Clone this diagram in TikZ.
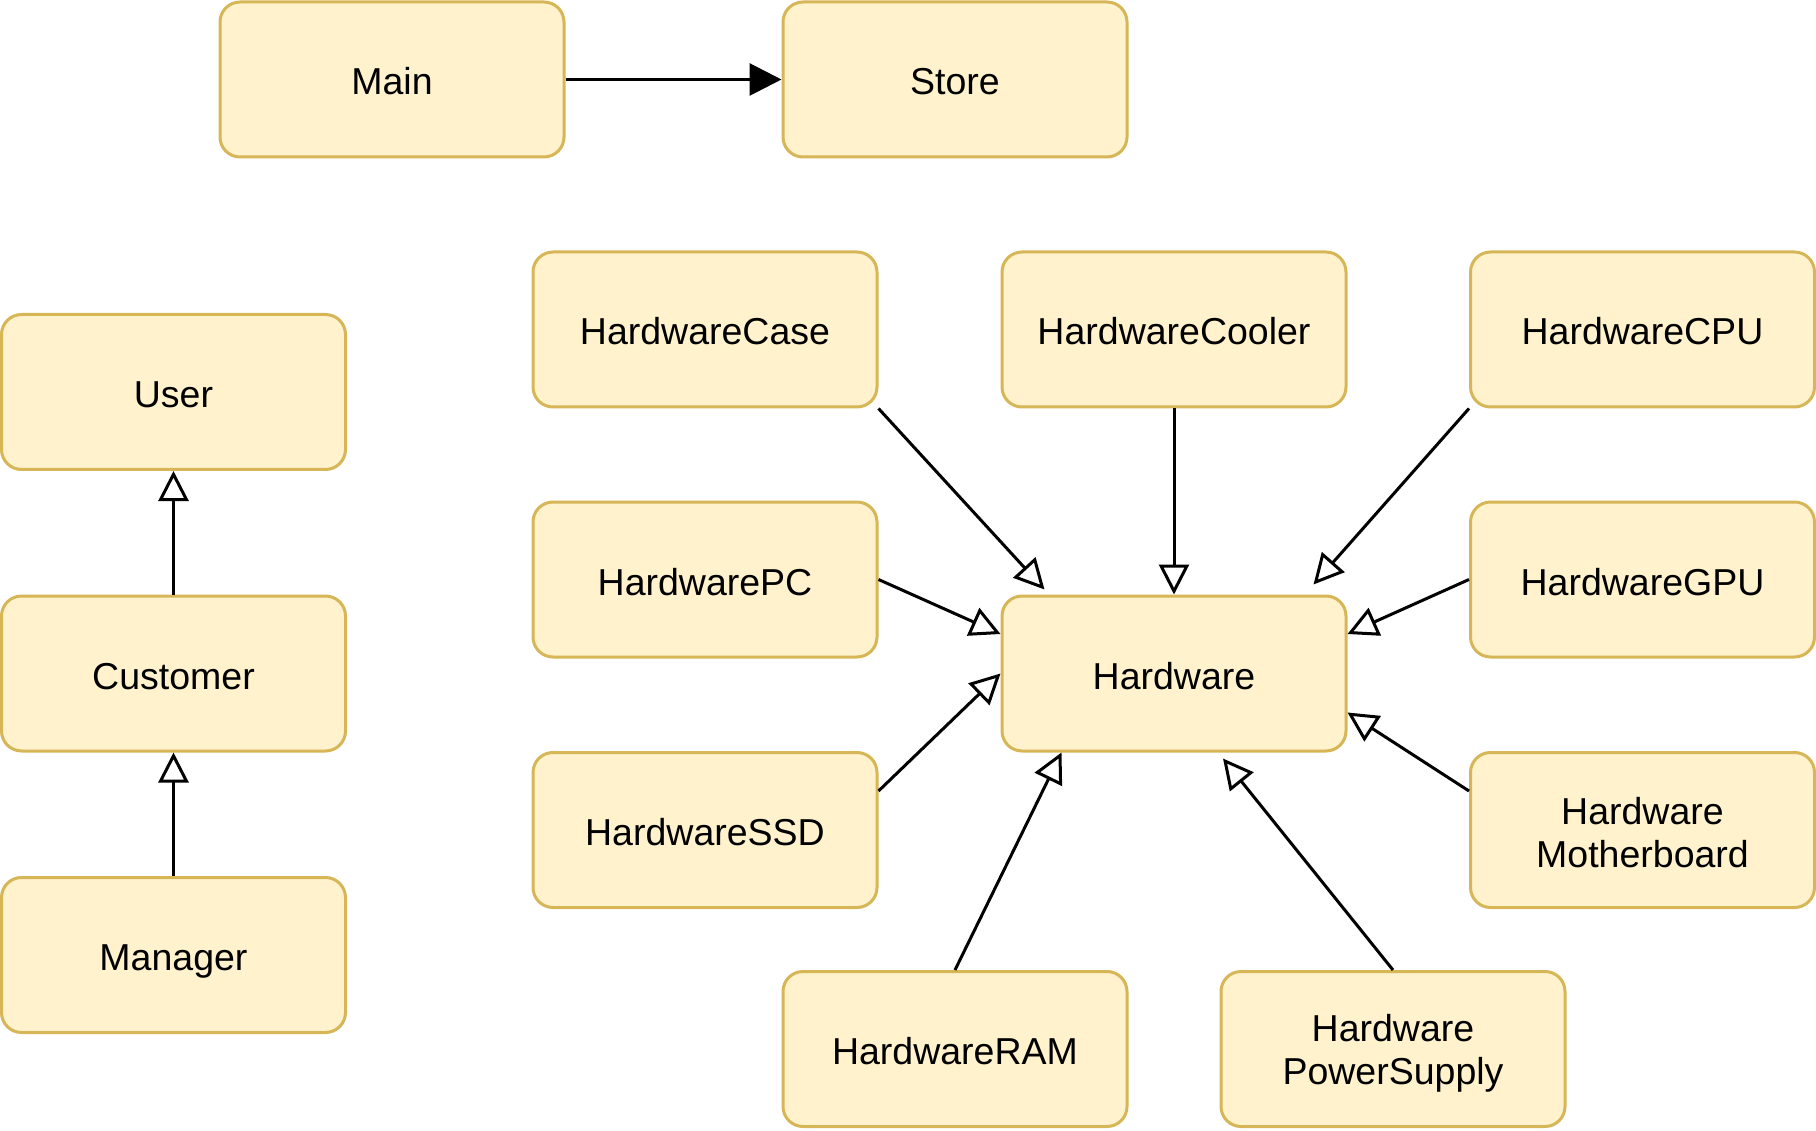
\documentclass[tikz,border=0pt]{standalone}
\usepackage{fontspec}
\setmainfont{Liberation Sans}
\usetikzlibrary{arrows.meta,calc}
\definecolor{boxfill}{HTML}{FFF2CC}
\definecolor{boxline}{HTML}{D6B656}
\newcommand\mystr{\rule[-5pt]{0pt}{41pt}}
\begin{document}
\begin{tikzpicture}[x=1pt,y=-1pt,
  cls/.style={draw=boxline,fill=boxfill,line width=3pt,rounded corners=20pt,
    minimum width=344pt,minimum height=155pt,inner sep=0pt,align=center,
    font=\fontsize{37.5}{43}\selectfont,text=black},
  one/.style={cls,text height=36pt,text depth=5pt},
  inh/.style={draw=black,line width=3pt,-{Triangle[open,length=30pt,width=30pt]}},
  assoc/.style={draw=black,line width=3pt,-{Triangle[length=32pt,width=32pt]}}]
\useasboundingbox (0,0) rectangle (1816,1131);
\node[one] (main) at (392,79.5) {Main};
\node[one] (store) at (955,79.5) {Store};
\node[one] (user) at (173.5,392) {User};
\node[one] (cust) at (173.5,673.5) {Customer};
\node[one] (mgr) at (173.5,955) {Manager};
\node[one] (case) at (705,329.5) {HardwareCase};
\node[one] (cool) at (1174,329.5) {HardwareCooler};
\node[one] (cpu) at (1642.5,329.5) {HardwareCPU};
\node[one] (pc) at (705,579.5) {HardwarePC};
\node[one] (hw) at (1174,673.5) {Hardware};
\node[one] (gpu) at (1642.5,579.5) {HardwareGPU};
\node[one] (ssd) at (705,830) {HardwareSSD};
\node[cls] (mb) at (1642.5,830) {\mystr Hardware\\\mystr Motherboard};
\node[one] (ram) at (955,1049) {HardwareRAM};
\node[cls] (ps) at (1393,1049) {\mystr Hardware\\\mystr PowerSupply};
\coordinate (tcase) at ($(hw.north west)+(44,-5)$);
\coordinate (tcpu) at ($(hw.north east)+(-34,-10)$);
\coordinate (tpc) at ($(hw.west)+(0,-39.5)$);
\coordinate (tgpu) at ($(hw.east)+(0,-39.5)$);
\coordinate (tmb) at ($(hw.east)+(0,39)$);
\coordinate (tram) at ($(hw.south west)+(61,0)$);
\coordinate (tps) at ($(hw.south)+(49,6)$);
\coordinate (sssd) at ($(ssd.east)+(0,-39)$);
\coordinate (smb) at ($(mb.west)+(0,-39)$);
\draw[assoc] (main.east) -- (store.west);
\draw[inh] (cust.north) -- (user.south);
\draw[inh] (mgr.north) -- (cust.south);
\draw[inh] (case.south east) -- (tcase);
\draw[inh] (cool.south) -- (hw.north);
\draw[inh] (cpu.south west) -- (tcpu);
\draw[inh] (pc.east) -- (tpc);
\draw[inh] (gpu.west) -- (tgpu);
\draw[inh] (sssd) -- (hw.west);
\draw[inh] (smb) -- (tmb);
\draw[inh] (ram.north) -- (tram);
\draw[inh] (ps.north) -- (tps);
\end{tikzpicture}
\end{document}
